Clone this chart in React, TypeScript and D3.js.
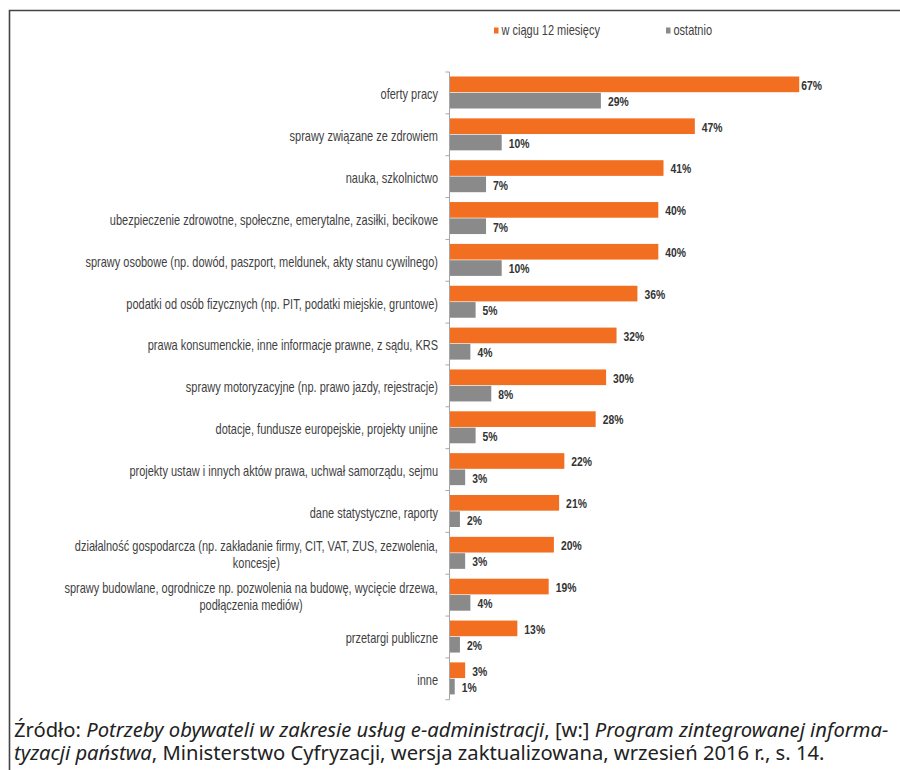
import React, { useEffect, useRef } from "react";
import * as d3 from "d3";

const categories: string[] = [
  "oferty pracy",
  "sprawy związane ze zdrowiem",
  "nauka, szkolnictwo",
  "ubezpieczenie zdrowotne, społeczne, emerytalne, zasiłki, becikowe",
  "sprawy osobowe (np. dowód, paszport, meldunek, akty stanu cywilnego)",
  "podatki od osób fizycznych (np. PIT, podatki miejskie, gruntowe)",
  "prawa konsumenckie, inne informacje prawne, z sądu, KRS",
  "sprawy motoryzacyjne (np. prawo jazdy, rejestracje)",
  "dotacje, fundusze europejskie, projekty unijne",
  "projekty ustaw i innych aktów prawa, uchwał samorządu, sejmu",
  "dane statystyczne, raporty",
  "działalność gospodarcza (np. zakładanie firmy, CIT, VAT, ZUS, zezwolenia,\nkoncesje)",
  "sprawy budowlane, ogrodnicze np. pozwolenia na budowę, wycięcie drzewa,\npodłączenia mediów)",
  "przetargi publiczne",
  "inne",
];

const within12Months: number[] = [67, 47, 41, 40, 40, 36, 32, 30, 28, 22, 21, 20, 19, 13, 3];
const recently: number[] = [29, 10, 7, 7, 10, 5, 4, 8, 5, 3, 2, 3, 4, 2, 1];

const seriesNames: string[] = ["w ciągu 12 miesięcy", "ostatnio"];
const seriesColors: string[] = ["#f26f21", "#8a8a8a"];

const sourceLine1: [string, boolean][] = [
  ["Źródło: ", false],
  ["Potrzeby obywateli w zakresie usług e-administracji", true],
  [", [w:] ", false],
  ["Program zintegrowanej informa-", true],
];
const sourceLine2: [string, boolean][] = [
  ["tyzacji państwa", true],
  [", Ministerstwo Cyfryzacji, wersja zaktualizowana, wrzesień 2016 r., s. 14.", false],
];

const SANS = "'Liberation Sans', Arial, sans-serif";
const NARROW_SX = 0.83;

export default function App() {
  const ref = useRef<SVGSVGElement | null>(null);

  useEffect(() => {
    const svg = d3.select(ref.current);
    svg.selectAll("*").remove();

    // frame
    svg.append("path")
      .attr("d", "M9.5,770 L9.5,10.5 L900,10.5")
      .attr("fill", "none")
      .attr("stroke", "#444")
      .attr("stroke-width", 1.6);

    const x = d3.scaleLinear().domain([0, 80]).range([449.5, 867.1]);
    const y = d3.scaleBand<string>().domain(categories).range([72, 699.75]).padding(0);
    const inner = d3.scaleBand<number>().domain([0, 1]).range([4.5, 36.5]).paddingInner(0.04);
    const plotRight = 822;

    const g = svg.append("g");

    const measure = (txt: string, size: number, weight = "normal") => {
      const p = g.append("text").attr("font-family", SANS).attr("font-size", size)
        .attr("font-weight", weight).text(txt);
      const w = (p.node() as SVGTextElement).getComputedTextLength();
      p.remove();
      return w;
    };

    // bars + value labels
    const series = [within12Months, recently];
    series.forEach((vals, si) => {
      g.selectAll(null)
        .data(categories)
        .enter()
        .append("rect")
        .attr("x", x(0))
        .attr("y", (c) => (y(c) as number) + (inner(si) as number))
        .attr("width", (_c, i) => x(vals[i]) - x(0))
        .attr("height", inner.bandwidth())
        .attr("fill", seriesColors[si]);

      categories.forEach((c, i) => {
        const label = `${vals[i]}%`;
        const w = measure(label, 12.5, "bold") * NARROW_SX;
        const lx = Math.min(x(vals[i]) + 7, plotRight - w);
        const ly = (y(c) as number) + (inner(si) as number) + inner.bandwidth() / 2 + 1;
        g.append("text")
          .attr("transform", `translate(${lx},${ly}) scale(${NARROW_SX},1)`)
          .attr("dominant-baseline", "central")
          .attr("font-family", SANS)
          .attr("font-weight", "bold")
          .attr("font-size", 12.5)
          .attr("fill", "#333")
          .text(label);
      });
    });

    // axis line + ticks
    g.append("line")
      .attr("x1", x(0)).attr("x2", x(0))
      .attr("y1", y.range()[0]).attr("y2", y.range()[1])
      .attr("stroke", "#a6a6a6").attr("stroke-width", 1);
    const tickPos = categories.map((c) => y(c) as number).concat([y.range()[1]]);
    g.selectAll(null)
      .data(tickPos)
      .enter()
      .append("line")
      .attr("x1", x(0) - 4).attr("x2", x(0))
      .attr("y1", (d) => d).attr("y2", (d) => d)
      .attr("stroke", "#a6a6a6").attr("stroke-width", 1);

    // category labels (narrow look via horizontal scale)
    const labelRight = 438;
    const catSize = 14;
    const refLabel = categories[4];
    const sx = 353 / measure(refLabel, catSize);
    categories.forEach((c) => {
      const lines = c.split("\n");
      const cy = (y(c) as number) + y.bandwidth() / 2 + 2;
      const lh = 17;
      if (lines.length === 1) {
        g.append("text")
          .attr("transform", `translate(${labelRight},${cy}) scale(${sx},1)`)
          .attr("text-anchor", "end")
          .attr("dominant-baseline", "central")
          .attr("font-family", SANS)
          .attr("font-size", catSize)
          .attr("fill", "#3f3f3f")
          .text(c);
      } else {
        const w = measure(lines[0], catSize) * sx;
        const cx = labelRight - w / 2;
        const t = g.append("text")
          .attr("transform", `translate(${cx},${cy}) scale(${sx},1)`)
          .attr("text-anchor", "middle")
          .attr("dominant-baseline", "central")
          .attr("font-family", SANS)
          .attr("font-size", catSize)
          .attr("fill", "#3f3f3f");
        lines.forEach((ln, li) => {
          t.append("tspan")
            .attr("x", 0)
            .attr("y", (li - (lines.length - 1) / 2) * lh)
            .text(ln);
        });
      }
    });

    // legend
    const legendX = [494, 666];
    seriesNames.forEach((n, i) => {
      svg.append("rect")
        .attr("x", legendX[i]).attr("y", 27.5)
        .attr("width", 4.5).attr("height", 6)
        .attr("fill", seriesColors[i]);
      svg.append("text")
        .attr("transform", `translate(${legendX[i] + 7.5},30.5) scale(${sx},1)`)
        .attr("dominant-baseline", "central")
        .attr("font-family", SANS)
        .attr("font-size", catSize)
        .attr("fill", "#3f3f3f")
        .text(n);
    });

    // source (two lines, flat tspans)
    [sourceLine1, sourceLine2].forEach((parts, li) => {
      const t = svg.append("text")
        .attr("x", 14)
        .attr("y", li === 0 ? 736.5 : 760)
        .attr("font-family", "'Noto Sans', 'Open Sans', sans-serif")
        .attr("font-size", 20.2)
        .attr("fill", "#222");
      parts.forEach(([s, it]) => {
        t.append("tspan").attr("font-style", it ? "italic" : "normal").text(s);
      });
    });
  }, []);

  return (
    <svg
      ref={ref}
      width={900}
      height={770}
      style={{ position: "absolute", left: 0, top: 0, background: "#fff" }}
    />
  );
}
